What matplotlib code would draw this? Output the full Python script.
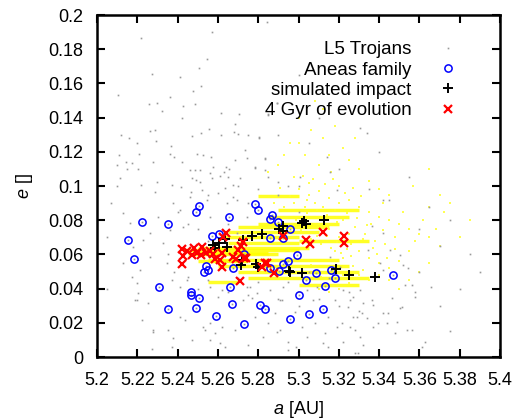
import matplotlib
matplotlib.use("Agg")
import matplotlib.pyplot as plt
from matplotlib.ticker import FixedLocator, FuncFormatter

plt.rcParams['font.family'] = ['Liberation Sans', 'DejaVu Sans']
plt.rcParams['mathtext.fontset'] = 'custom'
plt.rcParams['mathtext.it'] = 'Liberation Sans:italic'
plt.rcParams['mathtext.rm'] = 'Liberation Sans'

# ---------------- data ----------------
# background L5 Trojans
trojan_a = [5.2573, 5.2218, 5.2546, 5.2506, 5.2274, 5.2410, 5.2516, 5.2475, 5.2104, 5.2360,
            5.2296, 5.2258, 5.2428, 5.2486, 5.2322, 5.2613, 5.2704, 5.2847, 5.2891, 5.2843,
            5.2423, 5.2684, 5.2263, 5.2288, 5.2557, 5.2516, 5.2678, 5.2699, 5.2613, 5.2471,
            5.2157, 5.2198, 5.2293, 5.2804, 5.2367, 5.2734, 5.2109, 5.2210, 5.2362, 5.2496,
            5.2524, 5.2565, 5.2745, 5.2833, 5.2144, 5.2175, 5.2276, 5.2423, 5.2382, 5.2686,
            5.2098, 5.2205, 5.2638, 5.2656, 5.2463, 5.2486, 5.2509, 5.2575, 5.2785, 5.2833,
            5.2560, 5.2628, 5.2711, 5.2114, 5.2298, 5.2371, 5.2417, 5.2473, 5.2490, 5.2512,
            5.2572, 5.2609, 5.2648, 5.2676, 5.2635, 5.2519, 5.2466, 5.2288, 5.2218,
            5.2197, 5.2254, 5.2189, 5.2279, 5.2271, 5.2354, 5.2378, 5.2412, 5.2436, 5.2527,
            5.2536, 5.2560, 5.2585, 5.2618, 5.2635, 5.2684, 5.2743, 5.2767, 5.2784, 5.2850,
            5.2883, 5.2891, 5.2916, 5.2949, 5.2982, 5.3015, 5.3081, 5.3131, 5.3147, 5.3180,
            5.3214, 5.3247, 5.3280, 5.3313, 5.3363, 5.3396, 5.3446, 5.3479, 5.3512, 5.3611,
            5.3627, 5.3577, 5.3660, 5.3280, 5.3147, 5.2949, 5.2751, 5.2469, 5.2371, 5.2222,
            5.2205,
            5.2131, 5.2230, 5.2263, 5.2329, 5.2362, 5.2412, 5.2428, 5.2172, 5.2213, 5.2263,
            5.2346, 5.2371, 5.2412, 5.2445, 5.2560, 5.2618, 5.2197, 5.2279, 5.2610, 5.2560,
            5.2461, 5.2378, 5.2544, 5.2560, 5.2643, 5.2164, 5.2180, 5.2131, 5.2304,
            5.2693, 5.2743, 5.2693, 5.2759, 5.2726, 5.2792, 5.2858, 5.2908, 5.2924, 5.3040,
            5.3073, 5.3090, 5.3222, 5.3271, 5.3321, 5.3271, 5.3189, 5.3040, 5.2908, 5.2825,
            5.2990, 5.3123, 5.3304, 5.2676, 5.3156, 5.3205,
            5.3363, 5.3420, 5.3346, 5.3404, 5.3420, 5.3520, 5.3545, 5.3561, 5.3528, 5.3577,
            5.3462, 5.3371, 5.3304, 5.3255, 5.3288, 5.3338, 5.3420, 5.3503, 5.3487, 5.3536,
            5.3561, 5.3437, 5.3371, 5.3255, 5.3222, 5.3321, 5.3296, 5.3453, 5.3503,
            5.3050, 5.3200, 5.3350, 5.3450, 5.3100, 5.2900, 5.3250, 5.3550, 5.3650, 5.3000,
            5.2850, 5.2750, 5.3000, 5.3400, 5.3600, 5.3700, 5.3750, 5.3850, 5.3800, 5.3900,
            5.3700, 5.3750, 5.3600, 5.2050, 5.2070, 5.2100, 5.2050, 5.2150, 5.2120,
            5.2892, 5.2850, 5.2805, 5.2834, 5.2784, 5.2899, 5.3139, 5.3156, 5.3305, 5.3007,
            5.3189, 5.3420, 5.3338,
            5.2400, 5.2450, 5.2500, 5.2550, 5.2350, 5.2380, 5.2450, 5.2500, 5.2550, 5.2600,
            5.2650, 5.2700, 5.2750, 5.2800, 5.2850, 5.2900, 5.2950, 5.3000, 5.3050, 5.3100,
            5.3150, 5.3200, 5.3250, 5.3300, 5.2750, 5.2700, 5.2600, 5.2650, 5.2550, 5.2800,
            5.2900, 5.2950, 5.3000]
trojan_e = [0.1900, 0.1865, 0.1740, 0.1690, 0.1655, 0.1640, 0.1585, 0.1556, 0.1534, 0.1520,
            0.1487, 0.1478, 0.1470, 0.1478, 0.1437, 0.1429, 0.1421, 0.1420, 0.1487, 0.1960,
            0.1396, 0.1361, 0.1320, 0.1327, 0.1332, 0.1308, 0.1314, 0.1304, 0.1298, 0.1294,
            0.1282, 0.1253, 0.1265, 0.1282, 0.1234, 0.1210, 0.1183, 0.1189, 0.1189, 0.1189,
            0.1183, 0.1171, 0.1166, 0.1158, 0.1140, 0.1136, 0.1140, 0.1142, 0.1168, 0.1152,
            0.1123, 0.1101, 0.1113, 0.1101, 0.1092, 0.1092, 0.1092, 0.1113, 0.1113, 0.1092,
            0.1076, 0.1080, 0.1049, 0.1049, 0.1023, 0.1006, 0.0994, 0.1045, 0.1035, 0.1026,
            0.1045, 0.1057, 0.1053, 0.1006, 0.0987, 0.0977, 0.0967, 0.0967, 0.1006,
            0.0431, 0.0314, 0.0333, 0.0148, 0.0045, 0.0158, 0.0109, 0.0236, 0.0216, 0.0177,
            0.0158, 0.0099, 0.0139, 0.0177, 0.0060, 0.0158, 0.0411, 0.0343, 0.0236, 0.0197,
            0.0256, 0.0148, 0.0333, 0.0089, 0.0265, 0.0177, 0.0197, 0.0139, 0.0236, 0.0333,
            0.0197, 0.0294, 0.0158, 0.0256, 0.0333, 0.0197, 0.0256, 0.0139, 0.0294, 0.0060,
            0.0089, 0.0353, 0.0411, 0.0022, 0.0060, 0.0041, 0.0070, 0.0099, 0.0060, 0.0216,
            0.0372,
            0.0840, 0.0684, 0.0723, 0.0665, 0.0743, 0.0860, 0.0762, 0.0470, 0.0509, 0.0587,
            0.0548, 0.0450, 0.0411, 0.0450, 0.0411, 0.0392, 0.0333, 0.0158, 0.0080, 0.0197,
            0.0937, 0.0899, 0.0918, 0.0820, 0.0899, 0.0782, 0.0645, 0.0548, 0.0820,
            0.0918, 0.0820, 0.0723, 0.0411, 0.0333, 0.0372, 0.0392, 0.0333, 0.0411, 0.0392,
            0.0333, 0.0411, 0.0392, 0.0353, 0.0314, 0.0236, 0.0177, 0.0119, 0.0158, 0.0119,
            0.0060, 0.0080, 0.0119, 0.0937, 0.0587, 0.0528,
            0.0766, 0.0727, 0.0626, 0.0548, 0.0509, 0.0538, 0.0519, 0.0421, 0.0421, 0.0382,
            0.0343, 0.0304, 0.0392, 0.0333, 0.0236, 0.0226, 0.0256, 0.0285, 0.0206, 0.0158,
            0.0158, 0.0197, 0.0177, 0.0177, 0.0089, 0.0070, 0.0022, 0.0626, 0.0597,
            0.1250, 0.1100, 0.0980, 0.0920, 0.1400, 0.1300, 0.1550, 0.1050, 0.0880, 0.1000,
            0.1050, 0.1300, 0.1650, 0.1200, 0.0750, 0.0650, 0.0800, 0.0600, 0.0400, 0.0500,
            0.0300, 0.0150, 0.0500, 0.0700, 0.0900, 0.1000, 0.0400, 0.1100, 0.1300,
            0.1484, 0.1415, 0.1288, 0.1162, 0.1103, 0.1025, 0.1171, 0.1083, 0.1337, 0.1054,
            0.0977, 0.0918, 0.1308,
            0.0850, 0.0780, 0.0750, 0.0680, 0.0600, 0.0500, 0.0470, 0.0400, 0.0450, 0.0350,
            0.0380, 0.0460, 0.0360, 0.0440, 0.0280, 0.0340, 0.0440, 0.0300, 0.0500, 0.0340,
            0.0460, 0.0300, 0.0380, 0.0270, 0.0900, 0.1000, 0.0960, 0.0780, 0.0950, 0.0980,
            0.0950, 0.1000, 0.0850]

# Aeneas family members
aeneas_a = [5.2152, 5.2183, 5.2221, 5.2352, 5.2307, 5.2353, 5.2506, 5.2490, 5.2653, 5.2569,
            5.2607, 5.2541, 5.2531, 5.2552, 5.2677, 5.2660, 5.2465, 5.2465, 5.2507, 5.2491,
            5.2668, 5.2592, 5.2785, 5.2797, 5.2870, 5.2857, 5.2899, 5.2956, 5.2857, 5.2925,
            5.2732, 5.2993, 5.2949, 5.2924, 5.2858, 5.2902, 5.3085, 5.3161, 5.3036, 5.3179,
            5.3133, 5.3000, 5.2810, 5.2833, 5.3123, 5.3052, 5.2960, 5.2731, 5.3468]
aeneas_e = [0.0687, 0.0575, 0.0789, 0.0776, 0.0411, 0.0282, 0.0885, 0.0850, 0.0817, 0.0706,
            0.0719, 0.0532, 0.0499, 0.0507, 0.0520, 0.0412, 0.0380, 0.0361, 0.0347, 0.0285,
            0.0310, 0.0242, 0.0893, 0.0858, 0.0833, 0.0806, 0.0788, 0.0746, 0.0693, 0.0698,
            0.0602, 0.0597, 0.0564, 0.0541, 0.0519, 0.0502, 0.0491, 0.0506, 0.0451, 0.0462,
            0.0413, 0.0362, 0.0302, 0.0282, 0.0280, 0.0250, 0.0222, 0.0191, 0.0481]

# simulated impact
impact_a = [5.2588, 5.2605, 5.2635, 5.2643, 5.2726, 5.2721, 5.2714, 5.2768, 5.2821, 5.2904,
            5.2923, 5.2924, 5.3017, 5.3028, 5.3038, 5.3126, 5.2790, 5.2799, 5.2952, 5.2960,
            5.3019, 5.3187, 5.3252, 5.3379, 5.2575]
impact_e = [0.0637, 0.0665, 0.0688, 0.0645, 0.0684, 0.0567, 0.0538, 0.0705, 0.0722, 0.0747,
            0.0764, 0.0739, 0.0785, 0.0797, 0.0780, 0.0799, 0.0544, 0.0525, 0.0503, 0.0500,
            0.0493, 0.0513, 0.0478, 0.0467, 0.0655]

# after 4 Gyr of evolution
evol_a = [5.2420, 5.2427, 5.2424, 5.2449, 5.2469, 5.2479, 5.2496, 5.2519, 5.2518, 5.2543,
          5.2563, 5.2578, 5.2585, 5.2610, 5.2622, 5.2621, 5.2626, 5.2640, 5.2676, 5.2690,
          5.2702, 5.2714, 5.2723, 5.2729, 5.2741, 5.2709, 5.2832, 5.2845, 5.2818, 5.2880,
          5.2925, 5.3037, 5.3057, 5.3124, 5.3226, 5.3226]
evol_e = [0.0629, 0.0588, 0.0544, 0.0617, 0.0597, 0.0636, 0.0608, 0.0643, 0.0599, 0.0608,
          0.0617, 0.0602, 0.0571, 0.0567, 0.0606, 0.0525, 0.0704, 0.0727, 0.0587, 0.0571,
          0.0624, 0.0651, 0.0671, 0.0581, 0.0581, 0.0442, 0.0551, 0.0551, 0.0529, 0.0494,
          0.0709, 0.0687, 0.0660, 0.0731, 0.0708, 0.0667]

# yellow evolution tracks: horizontal streaks (start a, end a, e)
streak_a0 = [5.243, 5.245, 5.250, 5.255, 5.260, 5.262, 5.265, 5.270, 5.275, 5.280,
             5.285, 5.280, 5.290, 5.255, 5.300, 5.265, 5.250, 5.300, 5.248, 5.270]
streak_a1 = [5.300, 5.290, 5.305, 5.320, 5.325, 5.300, 5.310, 5.330, 5.335, 5.320,
             5.325, 5.300, 5.330, 5.270, 5.335, 5.300, 5.275, 5.330, 5.285, 5.315]
streak_e = [0.0625, 0.0600, 0.0640, 0.0570, 0.0530, 0.0700, 0.0730, 0.0500, 0.0460, 0.0780,
            0.0820, 0.0940, 0.0860, 0.0440, 0.0680, 0.0665, 0.0560, 0.0420, 0.0610, 0.0760]

# yellow diffuse cloud
cloud_a = [5.300, 5.306, 5.312, 5.318, 5.322, 5.296, 5.303, 5.310, 5.316, 5.325,
           5.330, 5.290, 5.298, 5.305, 5.320, 5.335, 5.340, 5.312, 5.308, 5.328,
           5.285, 5.293, 5.300, 5.315, 5.345,
           5.300, 5.305, 5.310, 5.315, 5.320, 5.325, 5.330, 5.335, 5.340, 5.345,
           5.350, 5.355, 5.360, 5.365, 5.352, 5.342, 5.318, 5.322, 5.328, 5.333,
           5.338, 5.343, 5.348, 5.355, 5.326, 5.330, 5.335, 5.340, 5.345, 5.350,
           5.322, 5.318, 5.312, 5.308, 5.303, 5.298, 5.293, 5.288, 5.315, 5.310,
           5.320, 5.325, 5.336, 5.342, 5.348, 5.358, 5.362, 5.368, 5.370, 5.372,
           5.365,
           5.330, 5.335, 5.325, 5.340, 5.345, 5.320, 5.315, 5.310, 5.300, 5.350,
           5.355, 5.360, 5.365,
           5.357, 5.365, 5.370, 5.375, 5.380, 5.385,
           5.302, 5.307, 5.313, 5.317, 5.323, 5.327, 5.331, 5.304, 5.309, 5.314,
           5.319, 5.324, 5.329, 5.334, 5.301, 5.306, 5.311, 5.316, 5.321, 5.326,
           5.291, 5.296, 5.299, 5.304, 5.309, 5.314, 5.319, 5.324, 5.332, 5.337,
           5.296, 5.301, 5.306, 5.311, 5.317, 5.322, 5.327, 5.332, 5.339, 5.344]
cloud_e = [0.140, 0.133, 0.128, 0.135, 0.122, 0.125, 0.118, 0.112, 0.108, 0.115,
           0.110, 0.112, 0.105, 0.102, 0.100, 0.103, 0.098, 0.145, 0.150, 0.128,
           0.108, 0.118, 0.125, 0.118, 0.095,
           0.098, 0.095, 0.097, 0.093, 0.090, 0.092, 0.088, 0.085, 0.082, 0.080,
           0.078, 0.075, 0.072, 0.070, 0.085, 0.090, 0.086, 0.080, 0.076, 0.072,
           0.068, 0.066, 0.063, 0.062, 0.066, 0.062, 0.058, 0.055, 0.052, 0.056,
           0.058, 0.062, 0.088, 0.090, 0.088, 0.090, 0.088, 0.090, 0.075, 0.078,
           0.070, 0.072, 0.078, 0.074, 0.070, 0.068, 0.080, 0.075, 0.065, 0.085,
           0.088,
           0.048, 0.045, 0.043, 0.048, 0.045, 0.040, 0.038, 0.040, 0.038, 0.040,
           0.045, 0.050, 0.055,
           0.100, 0.110, 0.095, 0.090, 0.070, 0.080,
           0.106, 0.104, 0.101, 0.104, 0.096, 0.099, 0.094, 0.092, 0.086, 0.083,
           0.079, 0.084, 0.081, 0.077, 0.074, 0.069, 0.066, 0.064, 0.061, 0.059,
           0.099, 0.094, 0.080, 0.084, 0.071, 0.071, 0.067, 0.063, 0.069, 0.064,
           0.052, 0.049, 0.054, 0.047, 0.051, 0.048, 0.053, 0.051, 0.060, 0.058]

x_ticks = [5.2, 5.22, 5.24, 5.26, 5.28, 5.3, 5.32, 5.34, 5.36, 5.38, 5.4]
y_ticks = [0, 0.02, 0.04, 0.06, 0.08, 0.1, 0.12, 0.14, 0.16, 0.18, 0.2]

# ---------------- figure ----------------
fig = plt.figure(figsize=(5.27, 4.19), dpi=100)
ax = fig.add_axes([97/527, 62/419, 403/527, 342/419])

yellow = '#ffff00'
for a0, a1, e in zip(streak_a0, streak_a1, streak_e):
    ax.plot([a0, a1], [e, e], color=yellow, lw=2.5, alpha=0.85,
            solid_capstyle='butt', zorder=1)
ax.plot(cloud_a, cloud_e, ls='none', marker='s', ms=1.8, mew=0,
        color='#ffff33', alpha=0.85, zorder=1)

ax.plot(trojan_a + aeneas_a, trojan_e + aeneas_e, ls='none', marker='s', ms=1.2,
        mew=0, color='#999999', zorder=2, label='L5 Trojans')
ax.plot(aeneas_a, aeneas_e, ls='none', marker='o', ms=5.2, mfc='none',
        mec='#0000ff', mew=1.1, zorder=3, label='Aneas family')
ax.plot(impact_a, impact_e, ls='none', marker='+', ms=6.5, mew=1.4,
        color='black', zorder=4, label='simulated impact')
ax.plot(evol_a, evol_e, ls='none', marker='x', ms=5.5, mew=1.6,
        color='#ff0000', zorder=5, label='4 Gyr of evolution')

ax.set_xlim(5.2, 5.4)
ax.set_ylim(0, 0.2)
ax.xaxis.set_major_locator(FixedLocator(x_ticks))
ax.yaxis.set_major_locator(FixedLocator(y_ticks))
fmt = FuncFormatter(lambda v, p: ('%.2f' % v).rstrip('0').rstrip('.'))
ax.xaxis.set_major_formatter(fmt)
ax.yaxis.set_major_formatter(fmt)
ax.tick_params(direction='in', length=6, width=1.5, top=True, right=True,
               labelsize=13, colors='black')
ax.tick_params(axis='x', pad=11.0)
ax.tick_params(axis='y', pad=9.6)
for s in ax.spines.values():
    s.set_linewidth(1.8)

ax.set_xlabel(r'$a$ [AU]', fontsize=13, labelpad=7.0)
ax.set_ylabel(r'$e$ []', fontsize=13, labelpad=9.5)

leg = ax.legend(loc='upper right', bbox_to_anchor=(0.895, 0.923), frameon=False,
                markerfirst=False, fontsize=13.5, handlelength=1.0, handletextpad=1.47,
                labelspacing=0.165, borderpad=0, borderaxespad=0, numpoints=1)

fig.savefig('out.png', dpi=100)
